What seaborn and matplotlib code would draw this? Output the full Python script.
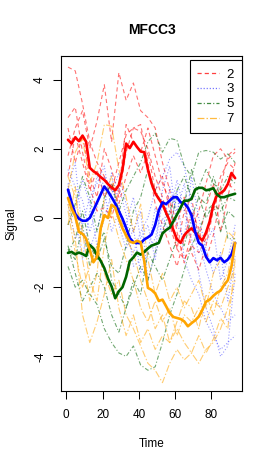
import numpy as np
import pandas as pd
import matplotlib
matplotlib.use("Agg")
import matplotlib.pyplot as plt
from matplotlib.lines import Line2D
import seaborn as sns

# ---------------- data ----------------
classes = ["2", "3", "5", "7"]
t_thin = [1, 5, 9, 13, 17, 21, 25, 29, 33, 37, 41, 45, 49, 53, 57, 61, 65, 69, 73, 77, 81, 85, 89, 93]
t_mean = [1, 3, 5, 7, 9, 11, 13, 15, 17, 19, 21, 23, 25, 27, 29, 31, 33, 35, 37, 39, 41, 43, 45, 47,
          49, 51, 53, 55, 57, 59, 61, 63, 65, 67, 69, 71, 73, 75, 77, 79, 81, 83, 85, 87, 89, 91, 93]

thin_2 = [
    [4.36, 4.25, 3.3, 2.2, 1.6, 1.2, 0.8, 1.6, 2.4, 2.6, 2.5, 2.0, 1.2, 0.6, -0.2, -0.9, -1.2, -0.8, -1.0, -0.6, 0.4, 1.2, 1.6, 1.4],
    [1.8, 2.6, 3.1, 2.0, 2.8, 3.85, 2.2, 4.2, 3.4, 3.9, 3.1, 2.9, 2.6, 1.6, 0.8, -0.4, -1.3, -0.4, 0.2, 1.0, 1.8, 2.0, 1.7, 1.9],
    [2.6, 1.6, 2.4, 1.2, 0.6, 2.0, 1.4, 0.6, 1.9, 2.6, 2.7, 1.6, 0.4, -0.2, -0.8, -1.4, -0.6, 0.2, -0.3, -1.2, -0.5, 0.6, 1.0, 0.8],
    [1.2, 2.4, 1.6, 0.8, 1.4, 0.6, 1.0, 0.4, 1.2, 1.8, 1.3, 1.9, 0.8, 1.2, 0.2, -0.2, 0.6, -1.0, -1.5, -0.8, 0.2, 0.9, 1.8, 2.0],
    [2.9, 3.2, 1.9, 0.9, 0.2, 0.3, 0.0, 0.8, 2.7, 2.2, 1.9, 2.6, 1.8, 1.0, 0.5, -0.9, 0.2, 0.6, -0.6, 0.3, 1.0, -0.4, 0.6, 1.6],
]
thin_3 = [
    [1.4, 0.9, 0.5, -0.4, 0.3, 1.2, 0.8, 0.4, -0.6, -1.0, -0.4, 0.0, 0.8, 1.2, 1.7, 1.9, 1.5, 0.4, -0.6, -1.5, -2.2, -2.6, -3.0, -2.8],
    [0.4, -0.6, -0.2, 0.6, 1.0, 1.5, 0.2, 0.9, 0.1, -1.4, -1.2, -0.9, -0.6, 0.4, 0.1, 1.1, 0.2, -0.6, -1.6, -2.6, -3.2, -4.0, -3.7, -1.6],
    [0.9, 1.6, -0.5, -0.9, -0.3, 0.4, 1.3, -0.2, -0.9, -0.3, -1.6, -1.0, 0.3, -0.5, 0.9, 0.2, 1.0, -0.2, -1.0, -0.7, -0.3, -1.8, -1.2, -0.2],
    [-0.2, 0.2, 1.1, 0.4, -0.8, 0.0, 0.7, 1.3, 0.4, -0.4, 0.2, -1.8, -1.0, 0.8, 1.5, -0.2, -0.6, 1.2, 0.0, -0.9, -1.6, -1.0, -2.4, -1.1],
    [1.0, 0.0, -1.2, 0.2, 1.2, 0.8, -0.4, 0.2, -0.2, 0.6, -0.6, -0.2, -1.2, 0.0, -0.4, 0.8, -1.2, -1.8, -2.2, -3.0, -3.4, -3.8, -3.6, -3.4],
]
thin_5 = [
    [-0.2, 0.4, 1.2, 0.6, -0.4, 0.6, 1.0, 0.2, 0.8, 1.2, 1.6, 2.2, 2.45, 1.9, 2.3, 2.25, 1.5, 1.2, 1.9, 1.95, 1.9, 1.7, 1.85, 1.6],
    [-1.4, -2.0, -1.8, -2.2, -2.5, -3.2, -3.6, -3.9, -4.0, -3.7, -4.25, -4.4, -4.3, -3.6, -2.8, -2.2, -1.5, -0.8, -0.4, 0.2, 0.4, 0.2, 0.6, 0.5],
    [-0.8, -1.6, -2.4, -2.0, -1.6, -2.0, -2.8, -3.3, -2.6, -2.0, -1.4, -1.8, -1.0, -0.4, 0.2, 0.8, 1.2, 0.6, 0.9, 1.4, 1.0, 0.8, 1.2, 1.0],
    [-1.0, -0.6, 0.2, -0.8, -1.2, -0.6, -1.4, -1.6, -0.8, 0.2, 0.6, 1.4, 0.8, 0.4, -0.2, 0.6, 0.4, 1.4, 0.6, 0.0, 0.4, -0.4, 0.2, 0.0],
    [-0.9, -1.2, -0.2, -1.4, -0.8, -0.4, -1.8, -2.2, -2.6, -1.8, -2.2, -1.0, -1.4, -1.8, -1.2, -0.6, -0.8, 0.0, 0.6, 0.4, 1.2, 0.6, -0.6, -0.6],
]
thin_7 = [
    [0.8, 1.9, 2.3, 1.0, 1.6, 2.7, 2.65, 1.4, 0.6, -0.4, 0.4, -1.2, -2.2, -1.6, -2.4, -2.0, -2.6, -2.2, -1.8, -2.6, -1.6, -1.2, -0.4, -0.6],
    [0.2, -1.0, -2.0, -1.4, -0.8, -1.6, -2.2, -1.8, -2.8, -3.2, -3.7, -4.2, -4.4, -4.76, -4.2, -3.8, -4.1, -3.9, -4.2, -3.8, -3.6, -3.2, -2.6, -1.8],
    [0.4, -0.6, -2.8, -3.6, -3.0, -2.2, -1.2, -2.6, -3.4, -2.8, -3.6, -3.2, -3.8, -3.4, -3.6, -3.2, -3.6, -3.9, -3.4, -3.9, -3.5, -2.9, -3.2, -1.2],
    [1.2, 0.6, -0.4, -1.8, -2.4, -0.8, 0.2, -0.6, -1.2, -1.8, -2.6, -3.0, -2.4, -3.0, -2.6, -3.4, -2.8, -3.0, -2.6, -3.0, -2.4, -2.6, -2.0, -1.4],
    [-0.2, 0.9, -1.2, -2.4, -1.6, 0.6, 1.2, 0.2, -0.6, -1.0, -1.8, -2.4, -3.2, -2.8, -3.6, -3.0, -2.4, -2.6, -3.2, -2.2, -2.8, -2.0, -1.6, -0.4],
]

mean_2 = [2.26, 2.15, 2.33, 2.22, 2.38, 2.2, 1.45, 1.35, 1.28, 1.18, 1.1, 0.98, 0.88, 0.8, 0.95, 1.4,
          2.15, 2.02, 2.2, 2.05, 1.92, 1.9, 1.4, 1.0, 0.72, 0.55, 0.4, 0.15, -0.08, -0.35, -0.62, -0.72,
          -0.5, -0.38, -0.3, -0.42, -0.55, -0.65, -0.42, -0.1, 0.38, 0.66, 0.72, 0.8, 0.98, 1.3, 1.15]
mean_3 = [0.82, 0.45, 0.12, -0.02, -0.08, -0.08, 0.0, 0.22, 0.45, 0.68, 0.91, 0.77, 0.6, 0.42, 0.2, -0.02,
          -0.29, -0.58, -0.7, -0.72, -0.73, -0.62, -0.56, -0.48, -0.2, 0.22, 0.45, 0.4, 0.5, 0.6, 0.6, 0.45,
          0.43, 0.3, 0.08, -0.4, -0.72, -0.8, -1.12, -1.28, -1.16, -1.22, -1.15, -1.28, -1.2, -1.05, -0.72]
mean_5 = [-1.01, -0.98, -1.05, -1.0, -1.04, -1.1, -0.78, -0.88, -1.08, -1.24, -1.45, -1.75, -1.98, -2.32,
          -2.12, -2.0, -1.7, -1.25, -1.14, -1.0, -1.06, -0.98, -0.88, -0.8, -0.76, -0.72, -0.45, -0.35,
          -0.28, -0.1, 0.1, 0.3, 0.5, 0.5, 0.55, 0.82, 0.87, 0.87, 0.8, 0.82, 0.86, 0.68, 0.6, 0.6, 0.64,
          0.67, 0.7]
mean_7 = [0.58, 0.27, 0.05, -0.4, -0.46, -0.6, -0.92, -1.28, -1.12, -0.3, 0.08, 0.0, 0.38, 0.3, -0.02,
          -0.3, -0.5, -0.68, -0.72, -0.66, -0.7, -1.25, -2.02, -2.08, -2.18, -2.4, -2.36, -2.55, -2.75,
          -2.86, -2.89, -2.92, -2.99, -3.13, -3.04, -2.96, -2.85, -2.65, -2.42, -2.36, -2.25, -2.16, -2.1,
          -1.93, -1.8, -1.4, -0.72]

x_ticks = [0, 20, 40, 60, 80]
y_ticks = [-4, -2, 0, 2, 4]

# ---------------- frames ----------------
thin_sets = {"2": thin_2, "3": thin_3, "5": thin_5, "7": thin_7}
mean_sets = {"2": mean_2, "3": mean_3, "5": mean_5, "7": mean_7}

rows = []
for c in classes:
    for i, ser in enumerate(thin_sets[c]):
        for t, v in zip(t_thin, ser):
            rows.append({"t": t, "value": v, "cls": c, "series": f"{c}_{i}"})
thin_df = pd.DataFrame(rows)

rows = []
for c in classes:
    for t, v in zip(t_mean, mean_sets[c]):
        rows.append({"t": t, "value": v, "cls": c})
mean_df = pd.DataFrame(rows)

# ---------------- style ----------------
sns.set_style("ticks")
plt.rcParams["font.family"] = ["Liberation Sans", "DejaVu Sans"]
plt.rcParams["lines.scale_dashes"] = False
plt.rcParams["text.color"] = "black"
plt.rcParams["axes.labelcolor"] = "black"
plt.rcParams["xtick.color"] = "black"
plt.rcParams["ytick.color"] = "black"

thin_pal = {"2": "#FF0000", "3": "#0000FF", "5": "#006400", "7": "#FFA500"}
thick_pal = {"2": "#FF0000", "3": "#0000FF", "5": "#006400", "7": "#FFA500"}
dash_map = {"2": (3.0, 2.2), "3": (0.8, 1.4), "5": (3.0, 1.5, 0.8, 1.5), "7": (5.0, 1.5, 1.0, 1.5)}
alpha_map = {"2": 0.55, "3": 0.4, "5": 0.55, "7": 0.55}

fig = plt.figure(figsize=(2.74, 4.67), dpi=100)
ax = fig.add_axes([61.3 / 274, (467 - 391) / 467, 180.5 / 274, 335 / 467])

for c in classes:
    sub = thin_df[thin_df["cls"] == c]
    sns.lineplot(data=sub, x="t", y="value", units="series", estimator=None,
                 color=thin_pal[c], linewidth=0.8, alpha=alpha_map[c],
                 dashes=False, legend=False, ax=ax)
    for ln in ax.get_lines()[-len(thin_sets[c]):]:
        ln.set_dashes(dash_map[c])

for c in classes:
    sub = mean_df[mean_df["cls"] == c]
    sns.lineplot(data=sub, x="t", y="value", estimator=None,
                 color=thick_pal[c], linewidth=1.9, legend=False, ax=ax)

ax.set_xlim(-2.68, 96.68)
ax.set_ylim(-5.0, 4.68)
ax.set_xticks(x_ticks)
ax.set_yticks(y_ticks)
ax.set_xticklabels([str(v) for v in x_ticks], fontsize=8.5, color="black")
ax.set_yticklabels([str(v) for v in y_ticks], fontsize=8.5, rotation=90, va="center", color="black")
ax.tick_params(axis="both", direction="out", length=5.5, width=0.75, color="black")
ax.tick_params(axis="x", pad=7.5)
ax.tick_params(axis="y", pad=5.5)
for s in ax.spines.values():
    s.set_visible(True)
    s.set_color("black")
    s.set_linewidth(0.8)

ax.set_xlabel("Time", fontsize=8.5, color="black")
ax.set_ylabel("Signal", fontsize=8.5, color="black")
ax.xaxis.set_label_coords(0.5, -0.140)
ax.yaxis.set_label_coords(-0.245, 0.5)
ax.set_title("MFCC3", fontsize=10, fontweight="bold", y=1.078, va="center", pad=0, color="black")

handles = []
for c in classes:
    h = Line2D([0], [0], color=thin_pal[c], linewidth=0.9, alpha=alpha_map[c] + 0.2)
    h.set_dashes(dash_map[c])
    handles.append(h)
leg = ax.legend(handles, classes, loc="upper right", bbox_to_anchor=(1.0, 0.987),
                borderaxespad=0.0, frameon=True, fancybox=False, fontsize=9.5,
                handlelength=1.6, handletextpad=0.6, labelspacing=0.2, borderpad=0.6)
leg.get_frame().set_edgecolor("black")
leg.get_frame().set_linewidth(0.8)
leg.get_frame().set_alpha(1.0)
for txt in leg.get_texts():
    txt.set_color("black")

fig.savefig("out.png", dpi=100)
